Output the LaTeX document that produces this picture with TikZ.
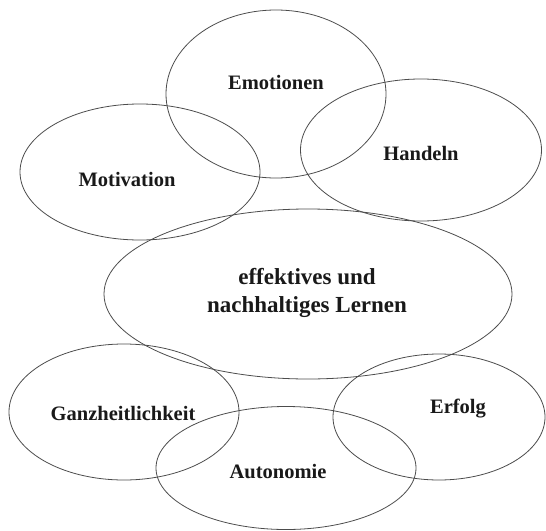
\documentclass[tikz,border=0pt]{standalone}
\usepackage{fontspec}
\setmainfont{Liberation Serif}
\usetikzlibrary{shapes.geometric}
\begin{document}
\begin{tikzpicture}[x=1pt,y=-1pt,
  ring/.style={draw=black!70,line width=0.8pt,ellipse,inner sep=0pt},
  lbl/.style={font=\fontsize{20.5}{24}\selectfont\bfseries,inner sep=0pt,text=black!90},
  mainlbl/.style={font=\fontsize{23}{28}\selectfont\bfseries,inner sep=0pt,align=center,text=black!90}]
\useasboundingbox (0,0) rectangle (546,530);
\node[ring,minimum width=220pt,minimum height=168pt] (emo) at (276,94) {};
\node[ring,minimum width=240pt,minimum height=136pt] (mot) at (140,172) {};
\node[ring,minimum width=241pt,minimum height=142pt] (han) at (421,150) {};
\node[ring,minimum width=408pt,minimum height=170pt] (lern) at (308,294) {};
\node[ring,minimum width=230pt,minimum height=136pt] (ganz) at (124,412) {};
\node[ring,minimum width=212pt,minimum height=126pt] (erf) at (439,417) {};
\node[ring,minimum width=260pt,minimum height=123pt] (aut) at (286,468) {};
\node[lbl] (temo) at (276,82) {Emotionen};
\node[lbl] (tmot) at (127,179) {Motivation};
\node[lbl] (than) at (421,153) {Handeln};
\node[mainlbl] (tlern) at (307,293) {effektives und\\nachhaltiges Lernen};
\node[lbl] (tganz) at (123,413) {Ganzheitlichkeit};
\node[lbl] (terf) at (458,409) {Erfolg};
\node[lbl] (taut) at (278,472) {Autonomie};
\end{tikzpicture}
\end{document}
